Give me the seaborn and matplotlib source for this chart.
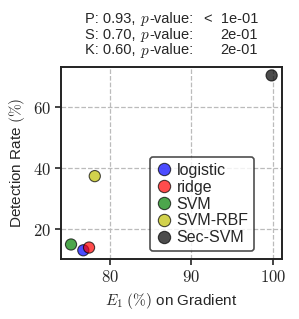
import matplotlib
matplotlib.use("Agg")
import matplotlib.pyplot as plt
import seaborn as sns
import pandas as pd
from matplotlib.ticker import FixedLocator, FuncFormatter

models = ["logistic", "ridge", "SVM", "SVM-RBF", "Sec-SVM"]
e1_gradient = [76.8, 77.5, 75.3, 78.2, 99.8]
detection_rate = [13.1, 14.0, 15.0, 37.4, 70.4]
colors = ["b", "r", "g", "y", "k"]
xticks = [80, 90, 100]
yticks = [20, 40, 60]
title_stat = ["P: 0.93,", "S: 0.70,", "K: 0.60,"]
title_pval = ["<  1e-01", "2e-01", "2e-01"]

df = pd.DataFrame({"model": models, "x": e1_gradient, "y": detection_rate})

sns.set_style("white")
plt.rcParams["font.family"] = ["Liberation Sans", "DejaVu Sans"]
plt.rcParams["mathtext.fontset"] = "cm"

W, H = 299, 319
fig = plt.figure(figsize=(W / 100, H / 100), dpi=100)
ax = fig.add_axes([0.204, 0.188, 0.738, 0.603])

sns.scatterplot(data=df, x="x", y="y", hue="model", hue_order=models,
                palette=dict(zip(models, colors)), alpha=0.7, s=65,
                edgecolor="black", linewidth=0.8, ax=ax, zorder=3)

ax.grid(True, linestyle="--", color="#bbbbbb", linewidth=0.9, zorder=0)
ax.set_axisbelow(True)
for sp in ax.spines.values():
    sp.set_color("#222222")
    sp.set_linewidth(1.4)

ax.xaxis.set_major_locator(FixedLocator(xticks))
ax.yaxis.set_major_locator(FixedLocator(yticks))
ax.xaxis.set_major_formatter(FuncFormatter(lambda v, p: f"${v:g}$"))
ax.yaxis.set_major_formatter(FuncFormatter(lambda v, p: f"${v:g}$"))
ax.tick_params(axis="both", which="major", bottom=True, left=True,
               direction="out", length=4, width=1.2, labelsize=12, color="#222222")

ax.set_xlabel(r"$E_1$ $(\%)$ on Gradient", fontsize=11)
ax.set_ylabel(r"Detection Rate $(\%)$", fontsize=11)

leg = ax.legend(loc="lower right", bbox_to_anchor=(0.875, 0.042), borderaxespad=0,
                fontsize=11.5, frameon=True, handletextpad=0.3, labelspacing=0.12,
                borderpad=0.35, handlelength=1.0, fancybox=True, markerscale=1.1)
leg.get_frame().set_edgecolor("#222222")
leg.get_frame().set_linewidth(1.2)
for h in leg.legend_handles:
    h.set_alpha(0.7)

renderer = fig.canvas.get_renderer()
fs = 10.5
baselines = [23, 39, 54.5]
for yy, stat, pv in zip(baselines, title_stat, title_pval):
    y = 1 - yy / H
    t1 = fig.text(85 / W, y, stat, ha="left", va="baseline", fontsize=fs)
    b1 = t1.get_window_extent(renderer)
    t2 = fig.text((b1.x1 + 4.5) / W, y, "$p$", ha="left", va="baseline", fontsize=fs + 0.5)
    b2 = t2.get_window_extent(renderer)
    fig.text((b2.x1 - 1.0) / W, y, "-value:", ha="left", va="baseline", fontsize=fs)
    fig.text(258 / W, y, pv, ha="right", va="baseline", fontsize=fs)

fig.savefig("out.png", dpi=100)
